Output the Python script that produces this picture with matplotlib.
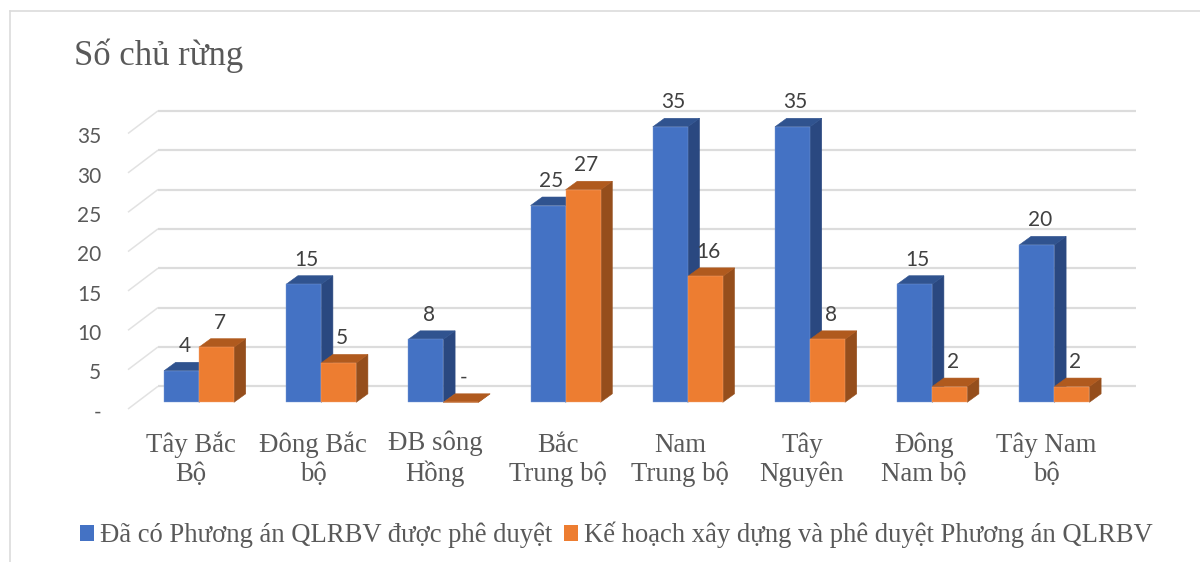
import matplotlib
matplotlib.use("Agg")
import matplotlib.pyplot as plt
from matplotlib.lines import Line2D
from matplotlib.patches import Polygon, Patch
from matplotlib.transforms import ScaledTranslation

categories = ["Tây Bắc\nBộ", "Đông Bắc\nbộ", "ĐB sông\nHồng", "Bắc\nTrung bộ",
              "Nam\nTrung bộ", "Tây\nNguyên", "Đông\nNam bộ", "Tây Nam\nbộ"]
approved = [4, 15, 8, 25, 35, 35, 15, 20]
planned = [7, 5, 0, 27, 16, 8, 2, 2]
y_ticks = [0, 5, 10, 15, 20, 25, 30, 35]
y_tick_labels = ["-", "5", "10", "15", "20", "25", "30", "35"]
series_names = ["Đã có Phương án QLRBV được phê duyệt",
                "Kế hoạch xây dựng và phê duyệt Phương án QLRBV"]
title = "Số chủ rừng"

W, H = 1200, 562
SERIF = "Liberation Serif"
GREY = "#595959"
GRID = "#dcdcdc"

fig = plt.figure(figsize=(W / 100, H / 100), dpi=100, facecolor="white")

# plot plane: category bands and value scale, in pixels of the figure
px_left, px_right = 137.9, 1115.5
px_zero, px_top = 402.3, 126.8
ax = fig.add_axes([px_left / W, 1 - px_zero / H,
                   (px_right - px_left) / W, (px_zero - px_top) / H])
ax.set_xlim(-0.5, 7.5)
ax.set_ylim(0, 35)
ax.patch.set_visible(False)
for s in ax.spines.values():
    s.set_visible(False)

xu = (px_right - px_left) / 8      # px per category
yu = (px_zero - px_top) / 35       # px per value unit
bar_w = 35 / xu
depth_x, depth_y = 11.7 / xu, 8.5 / yu
wall_x0 = (128 - px_left) / xu - 0.5
wall_y0 = (px_zero - 409) / yu
wall_x1 = (158 - px_left) / xu - 0.5
wall_y1 = (px_zero - 386.3) / yu
wall_x2 = (1136 - px_left) / xu - 0.5

for v in y_ticks:
    ax.plot([wall_x0, wall_x1], [v + wall_y0, v + wall_y1], color="#e2e2e2",
            lw=1.1, clip_on=False, zorder=1, solid_capstyle="butt")
    ax.plot([wall_x1, wall_x2], [v + wall_y1, v + wall_y1], color=GRID,
            lw=1.6, clip_on=False, zorder=1, solid_capstyle="butt")


def draw_series(i, x0, v, front, top, side, edge, z):
    x1 = x0 + bar_w
    ax.add_patch(Polygon([(x1, 0), (x1 + depth_x, depth_y), (x1 + depth_x, v + depth_y), (x1, v)],
                         closed=True, fc=side, ec=side, lw=0.4, zorder=z, clip_on=False))
    ax.add_patch(Polygon([(x0, v), (x1, v), (x1 + depth_x, v + depth_y), (x0 + depth_x, v + depth_y)],
                         closed=True, fc=top, ec=top, lw=0.4, zorder=z, clip_on=False))
    ax.bar(x0, v, width=bar_w, align="edge", color=front, edgecolor=edge, linewidth=0.3,
           zorder=z + 0.1, clip_on=False)


for i, (a, p) in enumerate(zip(approved, planned)):
    z = 2 + i
    draw_series(i, i - bar_w, a, "#4472c4", "#30538f", "#2a4880", "#7a9bd6", z)
    draw_series(i, i, p, "#ed7d31", "#b05a1e", "#954e1c", "#f4a777", z + 0.3)

    for x, v in ((i - bar_w / 2, a), (i + bar_w / 2, p)):
        ax.annotate(str(v) if v else "-", xy=(x, v), xytext=(3 * 0.72, 24.5 * 0.72),
                    textcoords="offset points", ha="center", va="center",
                    fontsize=15, family="Lato", color="#404040", zorder=30,
                    annotation_clip=False)

ax.set_yticks(y_ticks, y_tick_labels)
ax.tick_params(axis="y", length=0, pad=26.5, labelsize=15, labelcolor=GREY)
for t in ax.get_yticklabels():
    t.set_family("Lato")
    t.set_transform(t.get_transform() + ScaledTranslation(0, -8.5 / 100, fig.dpi_scale_trans))

ax.set_xticks(range(8), categories)
ax.tick_params(axis="x", length=0, pad=56.7, labelsize=19.3, labelcolor=GREY)
for t in ax.get_xticklabels():
    t.set_family(SERIF)
    t.set_linespacing(1.2)
    t.set_verticalalignment("baseline")
    t.set_transform(t.get_transform() + ScaledTranslation(-8 / 100, 0, fig.dpi_scale_trans))

fig.text(74 / W, 1 - 65 / H, title, family=SERIF, fontsize=24.9, color=GREY,
         ha="left", va="baseline")

handles = [Patch(fc="#4472c4", ec="none"), Patch(fc="#ed7d31", ec="none")]
fig.legend(handles, series_names, loc="center left",
           bbox_to_anchor=(80 / W, 1 - 535 / H), ncol=2, frameon=False,
           prop={"family": SERIF, "size": 19.15}, labelcolor=GREY,
           handlelength=0.53, handleheight=0.53, handletextpad=0.23, columnspacing=0.42,
           borderpad=0, borderaxespad=0)

fig.add_artist(Line2D([10 / W, 10 / W], [0, 1 - 11 / H], color=GRID, lw=1.2))
fig.add_artist(Line2D([10 / W, 1], [1 - 11 / H, 1 - 11 / H], color=GRID, lw=1.2))

fig.savefig("out.png", dpi=100)
